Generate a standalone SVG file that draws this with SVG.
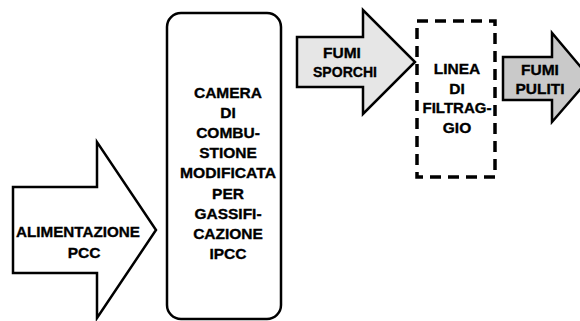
<svg xmlns="http://www.w3.org/2000/svg" width="580" height="321" viewBox="0 0 580 321">
<style>
.shape{stroke:#000;stroke-width:2.5;stroke-linejoin:miter}
.t{font-family:"Liberation Sans",Arial,sans-serif;font-weight:bold;font-size:15.5px;fill:#000;stroke:#000;stroke-width:0.35;text-anchor:middle}
</style>
<rect width="580" height="321" fill="#fff"/>
<g id="alimentazione">
<path class="shape" fill="#fff" d="M13,187 H97 V142 L156,230 L97,318 V273 H13 Z"/>
<text class="t" x="78" y="237" textLength="124" lengthAdjust="spacingAndGlyphs">ALIMENTAZIONE</text>
<text class="t" x="84" y="258">PCC</text>
</g>
<g id="camera">
<rect class="shape" fill="#fff" stroke-width="2" x="167" y="13" width="114" height="306" rx="14" ry="14"/>
<text class="t" x="228" y="98">CAMERA</text>
<text class="t" x="228" y="118">DI</text>
<text class="t" x="228" y="138">COMBU-</text>
<text class="t" x="228" y="158">STIONE</text>
<text class="t" x="228" y="178" textLength="96" lengthAdjust="spacingAndGlyphs">MODIFICATA</text>
<text class="t" x="228" y="199">PER</text>
<text class="t" x="228" y="219">GASSIFI-</text>
<text class="t" x="228" y="239">CAZIONE</text>
<text class="t" x="228" y="259">IPCC</text>
</g>
<g id="fumi-sporchi">
<path class="shape" fill="#e6e6e6" d="M297,37 H363 V10 L415,62 L363,114 V87 H297 Z"/>
<text class="t" x="342" y="58">FUMI</text>
<text class="t" x="345" y="77" textLength="64" lengthAdjust="spacingAndGlyphs">SPORCHI</text>
</g>
<g id="linea-filtraggio">
<rect x="417" y="21" width="78" height="156" fill="none" stroke="#000" stroke-width="3.5" stroke-dasharray="11 7"/>
<text class="t" x="457" y="74">LINEA</text>
<text class="t" x="457" y="94">DI</text>
<text class="t" x="457" y="113" textLength="69" lengthAdjust="spacingAndGlyphs">FILTRAG-</text>
<text class="t" x="457" y="133">GIO</text>
</g>
<g id="fumi-puliti">
<path class="shape" fill="#c9c9c9" d="M503,57 H552 V33 L590,78 L552,122 V100 H503 Z"/>
<text class="t" x="540" y="75">FUMI</text>
<text class="t" x="540" y="94">PULITI</text>
</g>
<g id="connectors"></g>
</svg>
